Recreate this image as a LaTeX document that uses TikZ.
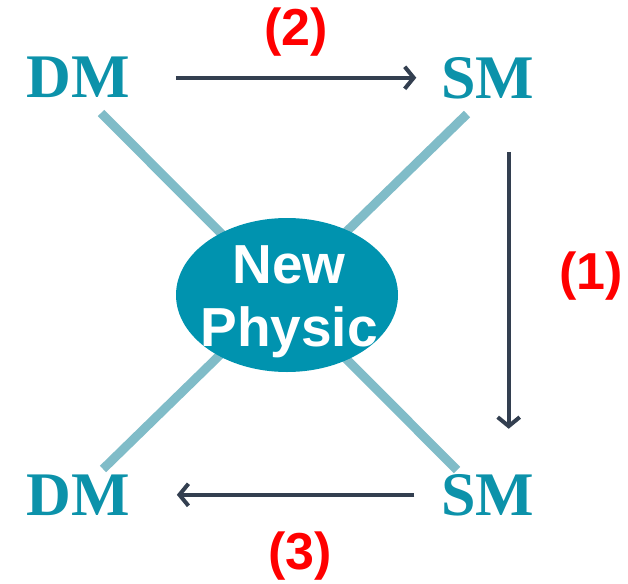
\documentclass[tikz,border=0pt]{standalone}
\usepackage{fontspec}
\setmainfont{Liberation Serif}
\setsansfont{Liberation Sans}
\usepackage{tikz}
\usetikzlibrary{shapes.geometric,arrows.meta,positioning,calc}
\definecolor{tealtext}{RGB}{12,146,170}
\definecolor{tealfill}{RGB}{0,147,175}
\definecolor{tealsoft}{RGB}{128,188,200}
\definecolor{slate}{RGB}{51,63,80}
\definecolor{redlbl}{RGB}{255,0,0}

\begin{document}
\begin{tikzpicture}[x=1pt,y=-1pt,
  term/.style={text=tealtext,inner sep=0pt,anchor=base,
    font=\fontsize{62}{62}\selectfont\bfseries},
  lbl/.style={text=redlbl,inner sep=0pt,
    font=\fontsize{52}{52}\selectfont\sffamily\bfseries},
  link/.style={draw=tealsoft,line width=9pt},
  flow/.style={draw=slate,line width=4pt,
    -{Straight Barb[length=9pt,width=22pt]}}]
\useasboundingbox (0,0) rectangle (628,583);
\node[term] (dm1) at (78,98) {DM};
\node[term] (sm1) at (488,99) {SM};
\node[term] (dm2) at (78,515) {DM};
\node[term] (sm2) at (488,515) {SM};
% crossing links behind the blob
\coordinate (x1) at (101,113);
\coordinate (x2) at (457,470);
\coordinate (x3) at (467,114);
\coordinate (x4) at (103,469);
\draw[link] (x1) -- (x2);
\draw[link] (x3) -- (x4);
\node[ellipse,fill=tealfill,minimum width=222pt,minimum height=154pt,
  inner sep=0pt] (np) at (287,295) {};
\node[text=white,align=center,inner sep=0pt,
  font=\fontsize{55}{63}\selectfont\sffamily\bfseries] (nptext)
  at ([xshift=2pt,yshift=-7pt]np.center) {New\\Physic};
% arrows
\draw[flow,shorten <=46pt,shorten >=25pt] (dm1.east) -- (dm1.east -| sm1.west);
\draw[flow] ([xshift=-26pt,yshift=-52pt]sm1.south east)
  -- ([xshift=-26pt,yshift=45pt]sm2.north east);
\draw[flow,shorten <=27pt,shorten >=47pt] (sm2.west) -- (sm2.west -| dm2.east);
\node[lbl] (l2) at (296,32) {(2)};
\node[lbl] (l1) at (591,276) {(1)};
\node[lbl] (l3) at (300,556) {(3)};
\end{tikzpicture}
\end{document}
